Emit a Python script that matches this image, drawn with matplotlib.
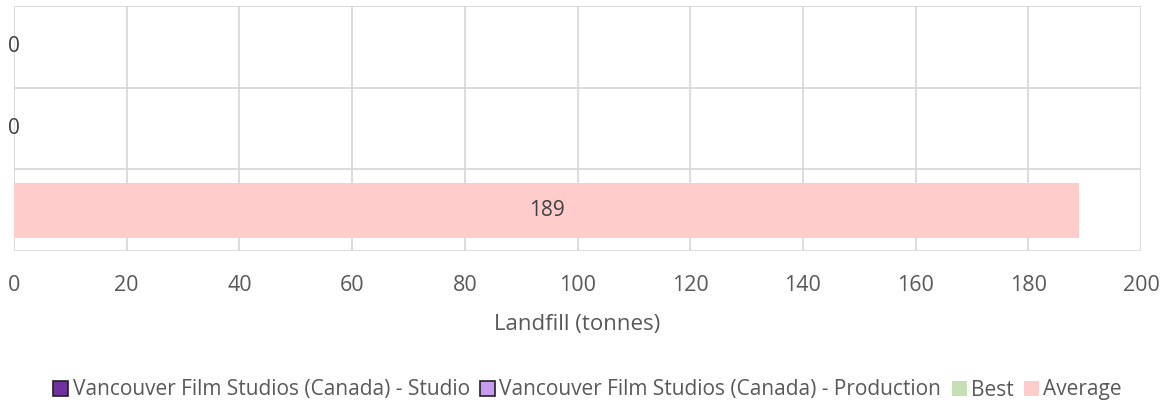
import numpy as np
import matplotlib.pyplot as plt
from matplotlib.patches import Patch

plt.rcParams['font.family'] = ['Open Sans', 'DejaVu Sans']

# rows from bottom to top
rows = ["Average", "Production", "Studio"]
values = [189, 0, 0]
row_colors = ["#ffcccc", "#c89bf0", "#7030a0"]

legend_names = ["Vancouver Film Studios (Canada) - Studio",
                "Vancouver Film Studios (Canada) - Production",
                "Best", "Average"]
legend_colors = ["#7030a0", "#c89bf0", "#c5e0b4", "#ffcccc"]
legend_edges = ["#222222", "#222222", "none", "none"]

xticks = [0, 20, 40, 60, 80, 100, 120, 140, 160, 180, 200]

txt = "#595959"
grid = "#d9d9d9"

fig = plt.figure(figsize=(11.69, 4.07), dpi=100)
ax = fig.add_axes([14 / 1169, 1 - 251 / 407, (1141 - 14) / 1169, (251 - 6) / 407])

y = np.arange(len(rows))
bars = ax.barh(y, values, height=0.67, color=row_colors, zorder=3)
for b, v in zip(bars, values):
    ax.text(v / 2, b.get_y() + b.get_height() / 2, str(v), ha="center", va="center",
            fontsize=15, color="#404040", zorder=4)

ax.set_xlim(0, 200)
ax.set_ylim(-0.5, len(rows) - 0.5)
ax.set_xticks(xticks)
ax.set_yticks([])
ax.set_yticks(np.arange(-0.5, len(rows)), minor=True)
ax.tick_params(axis="x", length=0, labelsize=15.5, colors=txt, pad=17)
ax.tick_params(axis="y", which="both", length=0)
ax.grid(axis="x", color=grid, linewidth=1.3, zorder=0)
ax.grid(axis="y", which="minor", color=grid, linewidth=1.3, zorder=0)
for s in ax.spines.values():
    s.set_visible(False)

ax.set_xlabel("Landfill (tonnes)", fontsize=16, color=txt, labelpad=13)

handles = [Patch(facecolor=c, edgecolor=e, linewidth=1.2) for c, e in zip(legend_colors, legend_edges)]
fig.legend(handles, legend_names, loc="center", bbox_to_anchor=(587.5 / 1169, 1 - 390 / 407), ncol=4,
           frameon=False, fontsize=15, labelcolor=txt, handlelength=0.72, handleheight=0.72,
           handletextpad=0.2, columnspacing=0.5)

fig.savefig("out.png", dpi=100)
